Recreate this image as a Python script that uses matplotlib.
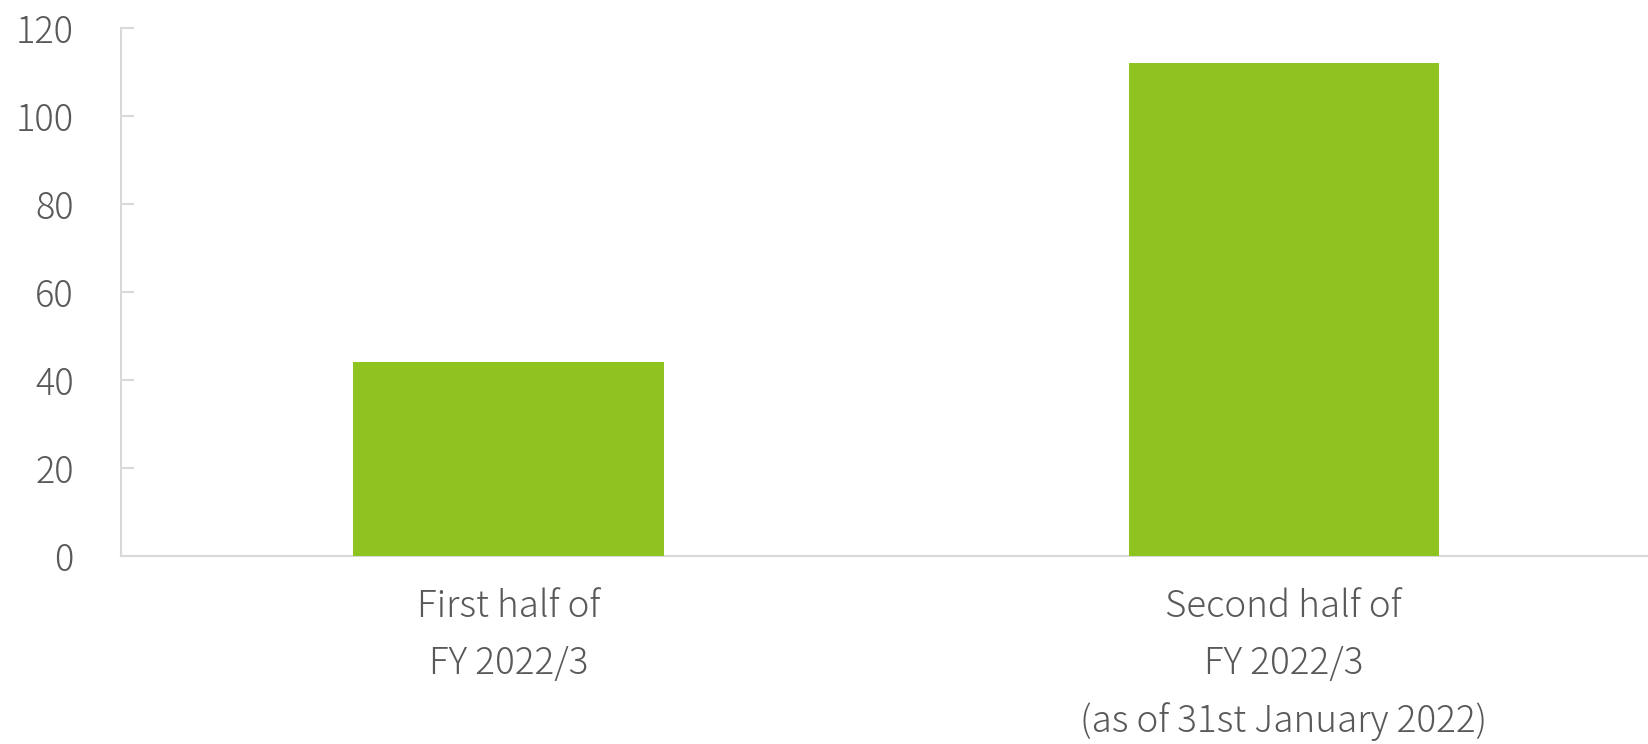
import matplotlib
matplotlib.use("Agg")
import matplotlib.pyplot as plt

categories = ["First half of\nFY 2022/3", "Second half of\nFY 2022/3\n(as of 31st January 2022)"]
values = [44, 112]
yticks = [0, 20, 40, 60, 80, 100, 120]

plt.rcParams['font.family'] = ['Noto Sans CJK JP', 'DejaVu Sans']
plt.rcParams['font.weight'] = 'light'

W, H = 1649, 744
fig = plt.figure(figsize=(W / 100, H / 100), dpi=100)
ax = fig.add_axes([121 / W, 1 - 556 / H, 1 - 121 / W, (556 - 28) / H])

x = list(range(len(categories)))
ax.bar(x, values, width=0.4, color='#8FC31F', zorder=3)

ax.set_ylim(0, 120)
ax.set_xlim(-0.5, (W - 121) / 775 - 0.5)
ax.set_yticks(yticks)
ax.set_yticklabels([str(t) for t in yticks])
ax.set_xticks(x)
ax.set_xticklabels(categories, linespacing=1.62)

text_color = '#595959'
spine_color = '#D9D9D9'
for s in ['top', 'right']:
    ax.spines[s].set_visible(False)
for s in ['left', 'bottom']:
    ax.spines[s].set_color(spine_color)
    ax.spines[s].set_linewidth(1.5)

ax.tick_params(axis='y', direction='in', length=9, width=1.5, color=spine_color,
               labelsize=26, labelcolor=text_color, pad=34)
ax.tick_params(axis='x', length=0, labelsize=26.5, labelcolor=text_color, pad=23)

fig.savefig("out.png", dpi=100)
